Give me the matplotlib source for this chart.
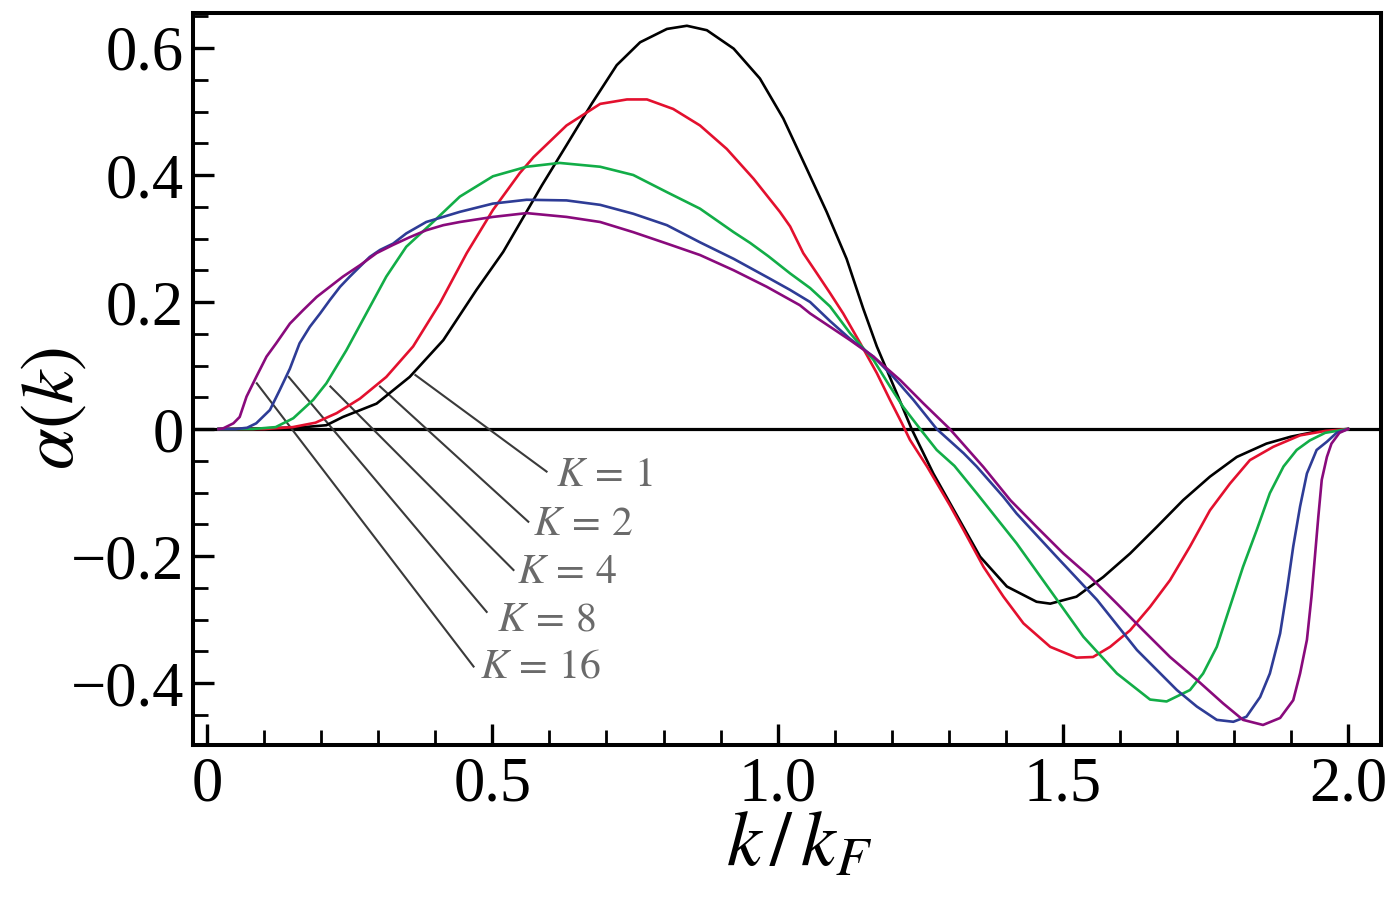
import numpy as np
import matplotlib.pyplot as plt

plt.rcParams['mathtext.fontset'] = 'stix'
plt.rcParams['font.family'] = ['Liberation Serif', 'DejaVu Serif']

# values (k / k_F, alpha)
k_K1 = [0.02, 0.10, 0.17, 0.209, 0.238, 0.297, 0.355, 0.414, 0.472, 0.519, 0.587, 0.630, 0.674,
        0.718, 0.759, 0.806, 0.841, 0.876, 0.923, 0.969, 1.010, 1.051, 1.086, 1.121, 1.150,
        1.174, 1.209, 1.235, 1.273, 1.355, 1.402, 1.454, 1.478, 1.524, 1.571, 1.618, 1.665,
        1.711, 1.758, 1.805, 1.857, 1.90, 1.95, 2.0]
a_K1 = [0.0, 0.001, 0.003, 0.006, 0.019, 0.040, 0.082, 0.140, 0.219, 0.279, 0.384, 0.447, 0.512,
        0.573, 0.609, 0.630, 0.635, 0.628, 0.599, 0.552, 0.489, 0.410, 0.342, 0.268, 0.190,
        0.130, 0.056, 0.0, -0.070, -0.201, -0.248, -0.272, -0.275, -0.264, -0.233, -0.196, -0.154,
        -0.112, -0.075, -0.044, -0.023, -0.012, -0.003, 0.0]

k_K2 = [0.02, 0.10, 0.15, 0.19, 0.227, 0.268, 0.314, 0.361, 0.408, 0.455, 0.501, 0.548, 0.572,
        0.630, 0.689, 0.736, 0.771, 0.817, 0.864, 0.911, 0.958, 1.004, 1.022, 1.045, 1.069,
        1.092, 1.115, 1.145, 1.174, 1.197, 1.218, 1.232, 1.262, 1.302, 1.326, 1.361, 1.396,
        1.431, 1.478, 1.524, 1.553, 1.583, 1.618, 1.653, 1.688, 1.723, 1.758, 1.793, 1.828,
        1.869, 1.916, 1.96, 2.0]
a_K2 = [0.0, 0.0, 0.003, 0.010, 0.025, 0.048, 0.082, 0.130, 0.198, 0.277, 0.345, 0.403, 0.428,
        0.478, 0.512, 0.519, 0.519, 0.504, 0.478, 0.441, 0.394, 0.342, 0.319, 0.277, 0.245,
        0.214, 0.182, 0.135, 0.088, 0.046, 0.009, -0.017, -0.059, -0.120, -0.159, -0.217, -0.264,
        -0.306, -0.343, -0.360, -0.359, -0.343, -0.317, -0.280, -0.238, -0.185, -0.128, -0.086, -0.049,
        -0.028, -0.010, -0.003, 0.0]

k_K4 = [0.02, 0.08, 0.12, 0.151, 0.186, 0.209, 0.244, 0.279, 0.314, 0.349, 0.396, 0.443, 0.501,
        0.560, 0.618, 0.689, 0.747, 0.806, 0.864, 0.923, 0.952, 0.984, 1.022, 1.057, 1.092,
        1.127, 1.168, 1.197, 1.220, 1.250, 1.279, 1.310, 1.349, 1.419, 1.478, 1.536, 1.595,
        1.653, 1.682, 1.723, 1.746, 1.770, 1.793, 1.816, 1.840, 1.863, 1.887, 1.910, 1.933,
        1.96, 2.0]
a_K4 = [0.0, 0.0, 0.003, 0.017, 0.046, 0.072, 0.124, 0.182, 0.240, 0.287, 0.326, 0.366, 0.398,
        0.413, 0.419, 0.413, 0.400, 0.373, 0.347, 0.310, 0.293, 0.272, 0.245, 0.222, 0.193,
        0.151, 0.109, 0.067, 0.035, 0.0, -0.033, -0.058, -0.101, -0.180, -0.254, -0.327, -0.385,
        -0.426, -0.429, -0.411, -0.385, -0.343, -0.280, -0.217, -0.159, -0.101, -0.059, -0.033, -0.018,
        -0.006, 0.0]

k_K8 = [0.02, 0.05, 0.07, 0.086, 0.110, 0.127, 0.145, 0.162, 0.180, 0.198, 0.215, 0.233, 0.250,
        0.268, 0.285, 0.303, 0.326, 0.349, 0.384, 0.443, 0.501, 0.560, 0.630, 0.689, 0.747,
        0.806, 0.864, 0.923, 0.984, 1.022, 1.057, 1.092, 1.127, 1.168, 1.203, 1.238, 1.279,
        1.326, 1.349, 1.396, 1.419, 1.489, 1.560, 1.630, 1.700, 1.735, 1.770, 1.799, 1.822,
        1.846, 1.863, 1.881, 1.893, 1.904, 1.916, 1.928, 1.945, 1.963, 1.98, 2.0]
a_K8 = [0.0, 0.0, 0.002, 0.009, 0.030, 0.061, 0.095, 0.135, 0.161, 0.182, 0.203, 0.224, 0.240,
        0.256, 0.271, 0.282, 0.292, 0.308, 0.326, 0.342, 0.355, 0.361, 0.360, 0.353, 0.339,
        0.321, 0.294, 0.268, 0.238, 0.219, 0.200, 0.170, 0.142, 0.114, 0.082, 0.046, 0.0,
        -0.038, -0.059, -0.107, -0.133, -0.201, -0.269, -0.348, -0.411, -0.437, -0.458, -0.461, -0.453,
        -0.422, -0.385, -0.322, -0.254, -0.185, -0.122, -0.070, -0.033, -0.020, -0.006, 0.0]

k_K16 = [0.02, 0.028, 0.046, 0.057, 0.069, 0.086, 0.104, 0.121, 0.145, 0.168, 0.192, 0.215, 0.238,
         0.268, 0.297, 0.326, 0.355, 0.384, 0.414, 0.443, 0.501, 0.560, 0.630, 0.689, 0.747,
         0.806, 0.864, 0.923, 0.981, 1.039, 1.057, 1.092, 1.127, 1.168, 1.215, 1.256, 1.302,
         1.361, 1.408, 1.454, 1.501, 1.548, 1.595, 1.641, 1.688, 1.735, 1.781, 1.816, 1.851,
         1.881, 1.904, 1.916, 1.928, 1.936, 1.942, 1.948, 1.954, 1.963, 1.971, 1.985, 2.0]
a_K16 = [0.0, 0.001, 0.009, 0.019, 0.051, 0.082, 0.114, 0.135, 0.166, 0.187, 0.208, 0.224, 0.240,
         0.258, 0.277, 0.290, 0.302, 0.313, 0.321, 0.326, 0.334, 0.340, 0.334, 0.326, 0.310,
         0.292, 0.274, 0.250, 0.224, 0.195, 0.182, 0.161, 0.140, 0.114, 0.077, 0.040, 0.0,
         -0.060, -0.112, -0.154, -0.196, -0.233, -0.275, -0.317, -0.359, -0.395, -0.432, -0.458, -0.466,
         -0.455, -0.427, -0.385, -0.332, -0.264, -0.201, -0.138, -0.080, -0.044, -0.023, -0.006, 0.0]

curve_k = [k_K1, k_K2, k_K4, k_K8, k_K16]
curve_a = [a_K1, a_K2, a_K4, a_K8, a_K16]
colors = ['#000000', '#E3102E', '#12AD47', '#2E3C96', '#890A7C']

# labels and leader lines: start on curve, end near label
labels = ['$K\\,=\\,1$', '$K\\,=\\,2$', '$K\\,=\\,4$', '$K\\,=\\,8$', '$K\\,=\\,16$']
lead_start_k = [0.365, 0.303, 0.216, 0.143, 0.087]
lead_start_a = [0.085, 0.067, 0.067, 0.082, 0.072]
lead_end_k = [0.595, 0.563, 0.537, 0.490, 0.467]
lead_end_a = [-0.067, -0.146, -0.222, -0.288, -0.374]
label_k = [0.612, 0.572, 0.543, 0.508, 0.478]
label_a = [-0.074, -0.150, -0.227, -0.301, -0.375]

x_ticks = [0, 0.5, 1.0, 1.5, 2.0]
x_ticklabels = ['0', '0.5', '1.0', '1.5', '2.0']
y_ticks = [-0.4, -0.2, 0, 0.2, 0.4, 0.6]
y_ticklabels = ['\u22120.4', '\u22120.2', '0', '0.2', '0.4', '0.6']

fig = plt.figure(figsize=(13.97, 9.0), dpi=100)
ax = fig.add_axes([0.1385, 0.1722, 0.8501, 0.8137])

ax.axhline(0, color='black', lw=2.3, zorder=1)

for kk, aa, c in zip(curve_k, curve_a, colors):
    ax.plot(kk, aa, color=c, lw=1.9, zorder=3, solid_joinstyle='round')

for i in range(len(labels)):
    ax.plot([lead_start_k[i], lead_end_k[i]], [lead_start_a[i], lead_end_a[i]],
            color='#3a3a3a', lw=1.5, zorder=2)
    ax.text(label_k[i], label_a[i], labels[i], fontsize=30, color='#6a6a6a',
            ha='left', va='center')

ax.set_xlim(-0.024, 2.058)
ax.set_ylim(-0.4976, 0.6556)

ax.set_xticks(x_ticks)
ax.set_xticklabels(x_ticklabels)
ax.set_xticks(np.arange(0, 2.01, 0.1), minor=True)
ax.set_yticks(y_ticks)
ax.set_yticklabels(y_ticklabels)
ax.set_yticks(np.arange(-0.45, 0.651, 0.05), minor=True)

ax.tick_params(which='both', direction='in', top=False, right=False, labelsize=45)
ax.tick_params(which='major', length=15, width=2.4)
ax.tick_params(which='minor', length=11, width=2.0)
ax.tick_params(axis='x', which='major', pad=8)
ax.tick_params(axis='y', which='major', pad=7)

for s in ax.spines.values():
    s.set_linewidth(2.9)

ax.set_xlabel('$k\\,/\\,k_F$', fontsize=56)
ax.xaxis.set_label_coords(0.51, -0.09)
ax.set_ylabel('$\\alpha(k)$', fontsize=54)
ax.yaxis.set_label_coords(-0.088, 0.46)

fig.savefig('out.png', dpi=100)
